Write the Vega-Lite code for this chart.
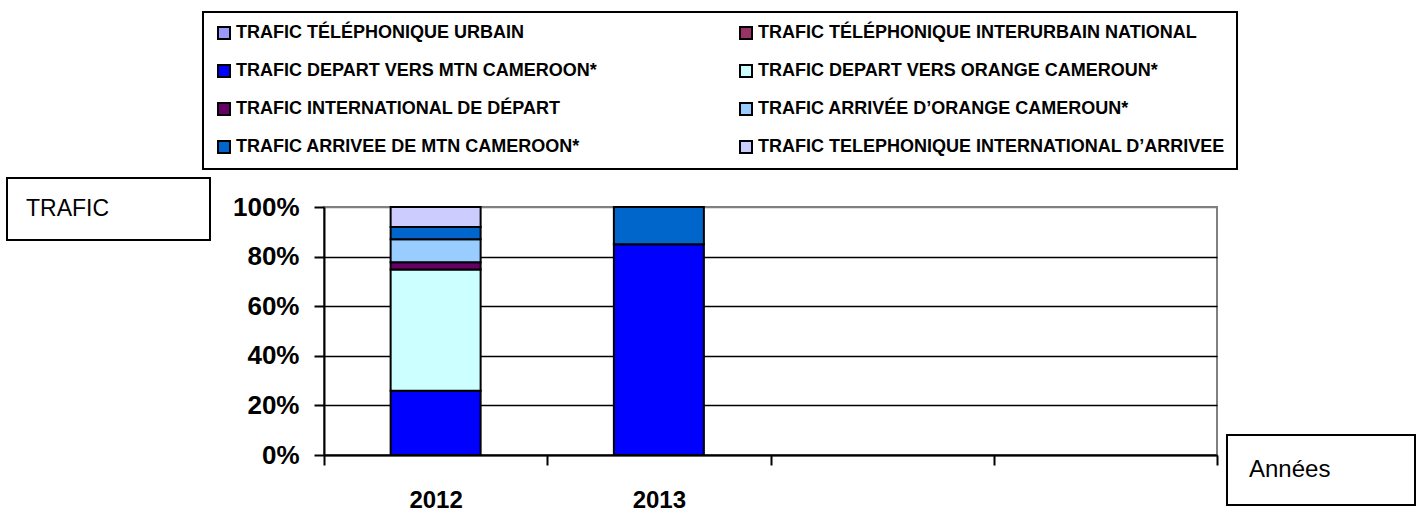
{
  "$schema": "https://vega.github.io/schema/vega-lite/v6.json",
  "width": 893,
  "height": 248,
  "autosize": {"type": "none"},
  "padding": {"left": 324, "top": 207, "right": 199, "bottom": 58},
  "background": "white",
  "config": {
    "view": {"fill": "#C0C0C0", "stroke": "#808080", "strokeWidth": 2},
    "font": "Liberation Sans",
    "legend": {"strokeWidth": 2}
  },
  "layer": [
    {
      "data": {
        "values": [
          {"year": 2012, "serie": "TRAFIC DEPART VERS MTN CAMEROON*", "value": 25.9, "ord": 3},
          {"year": 2012, "serie": "TRAFIC DEPART VERS ORANGE CAMEROUN*", "value": 48.9, "ord": 4},
          {"year": 2012, "serie": "TRAFIC INTERNATIONAL DE DÉPART", "value": 2.9, "ord": 5},
          {"year": 2012, "serie": "TRAFIC ARRIVÉE D’ORANGE CAMEROUN*", "value": 9.3, "ord": 6},
          {"year": 2012, "serie": "TRAFIC ARRIVEE DE MTN CAMEROON*", "value": 4.9, "ord": 7},
          {"year": 2012, "serie": "TRAFIC TELEPHONIQUE INTERNATIONAL D’ARRIVEE", "value": 8.1, "ord": 8},
          {"year": 2013, "serie": "TRAFIC DEPART VERS MTN CAMEROON*", "value": 85.0, "ord": 3},
          {"year": 2013, "serie": "TRAFIC ARRIVEE DE MTN CAMEROON*", "value": 15.0, "ord": 7}
        ]
      },
      "mark": {"type": "bar", "width": 90, "stroke": "black", "strokeWidth": 2},
      "encoding": {
        "x": {
          "field": "year",
          "type": "quantitative",
          "scale": {"domain": [2011.5, 2015.5], "nice": false, "zero": false, "padding": 0},
          "axis": {
            "title": null,
            "values": [2011.5, 2012.5, 2013.5, 2014.5, 2015.5],
            "labelExpr": "datum.value < 2012 ? '2012' : (datum.value < 2013 ? '2013' : '')",
            "labelOffset": 111.6,
            "labelFlush": false,
            "labelOverlap": false,
            "grid": false,
            "domainColor": "black",
            "domainWidth": 2,
            "tickColor": "black",
            "tickWidth": 2,
            "tickSize": 10,
            "labelFont": "Liberation Sans",
            "labelFontWeight": "bold",
            "labelFontSize": 24,
            "labelColor": "black",
            "labelBaseline": "top",
            "labelPadding": 23
          }
        },
        "y": {
          "field": "value",
          "type": "quantitative",
          "stack": "normalize",
          "scale": {"domain": [0, 1], "nice": false, "padding": 0},
          "axis": {
            "title": null,
            "values": [0, 0.2, 0.4, 0.6, 0.8, 1],
            "format": ".0%",
            "grid": true,
            "gridColor": {"condition": {"test": "datum.value >= 0.999", "value": "#808080"}, "value": "black"},
            "gridWidth": 1.5,
            "gridOpacity": 1,
            "domainColor": "black",
            "domainWidth": 2,
            "tickColor": "black",
            "tickWidth": 2,
            "tickSize": 10,
            "labelFont": "Liberation Sans",
            "labelFontWeight": "bold",
            "labelFontSize": 26,
            "labelColor": "black",
            "labelPadding": 15
          }
        },
        "color": {
          "field": "serie",
          "type": "nominal",
          "sort": [
            "TRAFIC TÉLÉPHONIQUE URBAIN",
            "TRAFIC TÉLÉPHONIQUE INTERURBAIN NATIONAL",
            "TRAFIC DEPART VERS MTN CAMEROON*",
            "TRAFIC DEPART VERS ORANGE CAMEROUN*",
            "TRAFIC INTERNATIONAL DE DÉPART",
            "TRAFIC ARRIVÉE D’ORANGE CAMEROUN*",
            "TRAFIC ARRIVEE DE MTN CAMEROON*",
            "TRAFIC TELEPHONIQUE INTERNATIONAL D’ARRIVEE"
          ],
          "scale": {
            "domain": [
              "TRAFIC TÉLÉPHONIQUE URBAIN",
              "TRAFIC TÉLÉPHONIQUE INTERURBAIN NATIONAL",
              "TRAFIC DEPART VERS MTN CAMEROON*",
              "TRAFIC DEPART VERS ORANGE CAMEROUN*",
              "TRAFIC INTERNATIONAL DE DÉPART",
              "TRAFIC ARRIVÉE D’ORANGE CAMEROUN*",
              "TRAFIC ARRIVEE DE MTN CAMEROON*",
              "TRAFIC TELEPHONIQUE INTERNATIONAL D’ARRIVEE"
            ],
            "range": ["#9999FF", "#993366", "#0000FF", "#CCFFFF", "#660066", "#99CCFF", "#0066CC", "#CCCCFF"]
          },
          "legend": {
            "orient": "none",
            "legendX": -121,
            "legendY": -195,
            "direction": "horizontal",
            "columns": 2,
            "title": null,
            "strokeColor": "black",
            "fillColor": "white",
            "padding": 12,
            "labelFont": "Liberation Sans",
            "labelFontWeight": "bold",
            "labelFontSize": 18,
            "labelColor": "black",
            "labelLimit": 700,
            "labelOffset": 3,
            "symbolType": "square",
            "symbolSize": 144,
            "symbolStrokeColor": "black",
            "symbolStrokeWidth": 2,
            "symbolOpacity": 1,
            "columnPadding": 139,
            "rowPadding": 18
          }
        },
        "order": {"field": "ord", "type": "quantitative"}
      }
    },
    {
      "data": {"values": [{}]},
      "mark": {"type": "point", "opacity": 0},
      "encoding": {
        "shape": {
          "datum": "TRAFIC",
          "legend": {
            "orient": "none",
            "legendX": -317,
            "legendY": -29,
            "title": "TRAFIC",
            "titleOrient": "left",
            "titleAnchor": "middle",
            "titleBaseline": "middle",
            "titleFont": "Liberation Sans",
            "titleFontSize": 23,
            "titleFontWeight": "normal",
            "titleColor": "black",
            "titlePadding": 58,
            "strokeColor": "black",
            "fillColor": "white",
            "padding": 19,
            "labelExpr": "''",
            "labelOffset": 0,
            "symbolSize": 529,
            "symbolOpacity": 0,
            "symbolStrokeWidth": 0
          }
        }
      }
    },
    {
      "data": {"values": [{}]},
      "mark": {"type": "point", "opacity": 0},
      "encoding": {
        "shape": {
          "datum": "Années",
          "legend": {
            "orient": "none",
            "legendX": 903,
            "legendY": 228,
            "title": "Années",
            "titleOrient": "left",
            "titleFont": "Liberation Sans",
            "titleFontSize": 24,
            "titleFontWeight": "normal",
            "titleColor": "black",
            "titlePadding": 36,
            "strokeColor": "black",
            "fillColor": "white",
            "padding": 22,
            "labelExpr": "''",
            "labelOffset": 0,
            "symbolSize": 676,
            "symbolOpacity": 0,
            "symbolStrokeWidth": 0
          }
        }
      }
    }
  ],
  "resolve": {"scale": {"shape": "independent"}, "legend": {"shape": "independent"}}
}
